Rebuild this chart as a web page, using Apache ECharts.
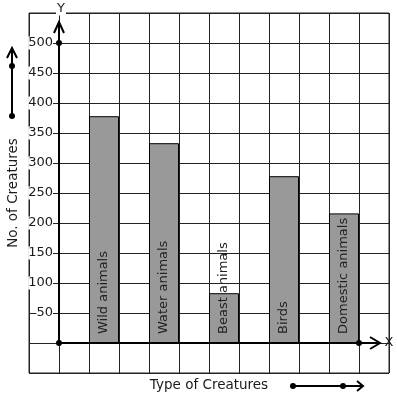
<!DOCTYPE html>
<html>
<head>
<meta charset="utf-8">
<script src="https://cdn.jsdelivr.net/npm/echarts@6/dist/echarts.min.js"></script>
<style>
  html, body { margin: 0; padding: 0; background: #fff; }
  #main { width: 397px; height: 399px; }
</style>
</head>
<body>
<div id="main"></div>
<script>
// data
var creatures = ['Wild animals', 'Water animals', 'Beast animals', 'Birds', 'Domestic animals'];
var counts = [378, 333, 83, 278, 216];
var yLabels = [50, 100, 150, 200, 250, 300, 350, 400, 450, 500];

// the graph paper has 12 cells across, bars sit in every second cell from cell 2
var cellCount = 12;
var firstCell = 2;

var cells = [], cellValues = [], cellNames = {};
for (var i = 0; i < cellCount; i++) {
  cells.push('c' + i);
  cellValues.push('-');
}
creatures.forEach(function (name, k) {
  var idx = firstCell + k * 2;
  cellValues[idx] = counts[k];
  cellNames['c' + idx] = name;
});

var font = 'DejaVu Sans';
var ink = '#1a1a1a';

var chart = echarts.init(document.getElementById('main'));

chart.setOption({
  animation: false,
  backgroundColor: '#fff',
  grid: {
    left: 29, right: 8, top: 13, bottom: 26,
    outerBoundsMode: 'none', containLabel: false,
    show: true, borderColor: '#222', borderWidth: 1
  },
  xAxis: {
    type: 'category',
    data: cells,
    boundaryGap: true,
    axisLine: { show: false },
    axisTick: { show: false },
    axisLabel: { show: false },
    splitLine: { show: true, interval: 0, lineStyle: { color: '#222', width: 1 } },
    name: 'Type of Creatures',
    nameLocation: 'middle',
    nameGap: 5,
    nameTextStyle: { fontFamily: font, fontSize: 13.5, color: ink, verticalAlign: 'top' }
  },
  yAxis: [{
    // grid lines
    type: 'value',
    min: -50, max: 550, interval: 50,
    axisLine: { show: false },
    axisTick: { show: false },
    axisLabel: { show: false },
    splitLine: { show: true, lineStyle: { color: '#222', width: 1 } },
    name: 'No. of Creatures',
    nameLocation: 'middle',
    nameGap: 9,
    nameTextStyle: { fontFamily: font, fontSize: 13.5, color: ink }
  }, {
    // tick labels, moved onto the Y line
    type: 'value',
    position: 'left',
    offset: -30,
    z: 5,
    min: -50, max: 550, interval: 50,
    axisLine: { show: false },
    axisTick: { show: false },
    splitLine: { show: false },
    axisLabel: {
      margin: 6,
      fontFamily: font, fontSize: 13, color: ink,
      backgroundColor: '#fff',
      formatter: function (v) { return yLabels.indexOf(v) >= 0 ? String(v) : ''; }
    }
  }],
  series: [{
    type: 'bar',
    data: cellValues,
    barWidth: '100%',
    itemStyle: { color: '#999999', borderColor: '#000', borderWidth: 1 },
    label: {
      show: true,
      position: 'insideBottom',
      rotate: 90,
      align: 'left',
      verticalAlign: 'middle',
      distance: 10,
      offset: [-1, 0],
      fontFamily: font, fontSize: 13, color: '#222',
      formatter: function (p) { return cellNames[p.name] || ''; }
    }
  }]
});

// axes with arrows, dots and the little direction arrows
var xa = chart.convertToPixel({ xAxisIndex: 0 }, 0);
var xb = chart.convertToPixel({ xAxisIndex: 0 }, 1);
var axisX = Math.round((xa + xb) / 2);
var axisY = Math.round(chart.convertToPixel({ yAxisIndex: 0 }, 0));
var y500 = Math.round(chart.convertToPixel({ yAxisIndex: 0 }, 500));
var yTip = 22, xTip = 380;
var stroke = { stroke: '#000', lineWidth: 2, fill: null };

function dot(x, y) {
  return { type: 'circle', shape: { cx: x, cy: y, r: 3 }, style: { fill: '#000' }, z: 10 };
}
function line(pts) {
  return { type: 'polyline', shape: { points: pts }, style: stroke, z: 10 };
}
function txt(s, x, y, extra) {
  var st = { text: s, x: x, y: y, fill: ink, font: '13px ' + font, align: 'center', verticalAlign: 'middle' };
  for (var k in extra) st[k] = extra[k];
  return { type: 'text', style: st, z: 11 };
}

chart.setOption({
  graphic: [
    line([[axisX, axisY], [axisX, yTip]]),
    line([[axisX - 5, yTip + 11], [axisX, yTip], [axisX + 5, yTip + 11]]),
    line([[axisX, axisY], [xTip, axisY]]),
    line([[xTip - 10, axisY - 6], [xTip, axisY], [xTip - 10, axisY + 6]]),
    dot(axisX, axisY), dot(axisX, y500), dot(359, axisY),
    txt('X', 389, axisY, {}),
    txt('Y', 61, 9, { backgroundColor: '#fff', padding: [0, 1] }),
    // left arrow
    line([[12, 116], [12, 48]]),
    line([[7, 58], [12, 48], [17, 58]]),
    dot(12, 66), dot(12, 116),
    // bottom arrow
    line([[293, 386], [363, 386]]),
    line([[357, 381], [363, 386], [357, 391]]),
    dot(293, 386), dot(343, 386)
  ]
});
</script>
</body>
</html>
